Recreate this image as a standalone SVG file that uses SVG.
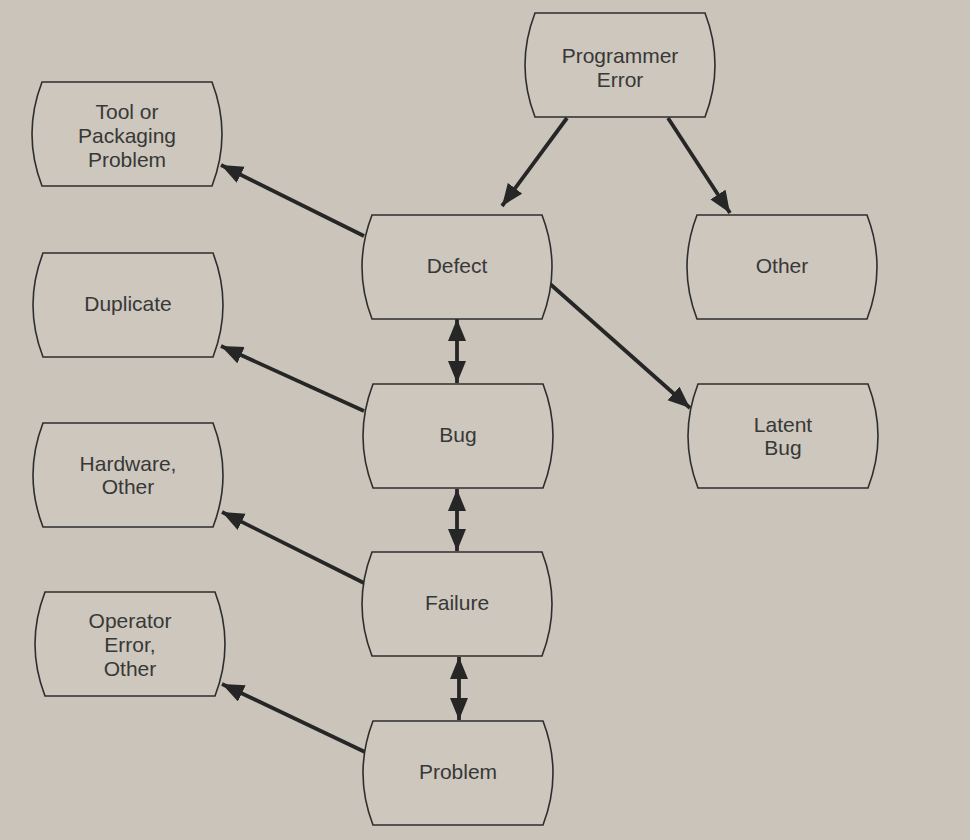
<svg xmlns="http://www.w3.org/2000/svg" width="970" height="840" viewBox="0 0 970 840">
<defs>
<style>
.box{fill:#cdc7bd;stroke:#2e2e2e;stroke-width:1.6}
.t{font-family:"Liberation Sans",Arial,sans-serif;font-size:21px;fill:#383838;text-anchor:middle}
.c{stroke:#262626;stroke-width:3.8;fill:none}
</style>
<path id="shape" d="M0,0 H170 Q190,52 170,104 H0 Q-20,52 0,0 Z"/>
<marker id="ah" markerWidth="24" markerHeight="20" refX="22" refY="9" orient="auto-start-reverse" markerUnits="userSpaceOnUse">
<path d="M0,0 L22,9 L0,18 Z" fill="#262626"/>
</marker>
</defs>
<rect width="970" height="840" fill="#cac4ba"/>

<g id="connectors">
<line class="c" x1="364" y1="236" x2="221" y2="165" marker-end="url(#ah)"/>
<line class="c" x1="364" y1="411" x2="221" y2="346" marker-end="url(#ah)"/>
<line class="c" x1="364" y1="583" x2="222" y2="512" marker-end="url(#ah)"/>
<line class="c" x1="365" y1="752" x2="222" y2="684" marker-end="url(#ah)"/>
<line class="c" x1="567" y1="118" x2="502" y2="206" marker-end="url(#ah)"/>
<line class="c" x1="668" y1="118" x2="730" y2="213" marker-end="url(#ah)"/>
<line class="c" x1="549" y1="283" x2="690" y2="408" marker-end="url(#ah)"/>
<line class="c" x1="457" y1="319" x2="457" y2="383" marker-start="url(#ah)" marker-end="url(#ah)"/>
<line class="c" x1="457" y1="489" x2="457" y2="551" marker-start="url(#ah)" marker-end="url(#ah)"/>
<line class="c" x1="459" y1="657" x2="459" y2="720" marker-start="url(#ah)" marker-end="url(#ah)"/>
</g>

<g id="programmer-error" transform="translate(535,13)">
<use href="#shape" class="box"/>
<text class="t" x="85" y="50">Programmer</text>
<text class="t" x="85" y="74">Error</text>
</g>
<g id="tool-packaging" transform="translate(42,82)">
<use href="#shape" class="box"/>
<text class="t" x="85" y="37">Tool or</text>
<text class="t" x="85" y="61">Packaging</text>
<text class="t" x="85" y="85">Problem</text>
</g>
<g id="defect" transform="translate(372,215)">
<use href="#shape" class="box"/>
<text class="t" x="85" y="58">Defect</text>
</g>
<g id="other" transform="translate(697,215)">
<use href="#shape" class="box"/>
<text class="t" x="85" y="58">Other</text>
</g>
<g id="duplicate" transform="translate(43,253)">
<use href="#shape" class="box"/>
<text class="t" x="85" y="58">Duplicate</text>
</g>
<g id="bug" transform="translate(373,384)">
<use href="#shape" class="box"/>
<text class="t" x="85" y="58">Bug</text>
</g>
<g id="latent-bug" transform="translate(698,384)">
<use href="#shape" class="box"/>
<text class="t" x="85" y="48">Latent</text>
<text class="t" x="85" y="71">Bug</text>
</g>
<g id="hardware-other" transform="translate(43,423)">
<use href="#shape" class="box"/>
<text class="t" x="85" y="48">Hardware,</text>
<text class="t" x="85" y="71">Other</text>
</g>
<g id="failure" transform="translate(372,552)">
<use href="#shape" class="box"/>
<text class="t" x="85" y="58">Failure</text>
</g>
<g id="operator-error" transform="translate(45,592)">
<use href="#shape" class="box"/>
<text class="t" x="85" y="36">Operator</text>
<text class="t" x="85" y="60">Error,</text>
<text class="t" x="85" y="84">Other</text>
</g>
<g id="problem" transform="translate(373,721)">
<use href="#shape" class="box"/>
<text class="t" x="85" y="58">Problem</text>
</g>
</svg>
